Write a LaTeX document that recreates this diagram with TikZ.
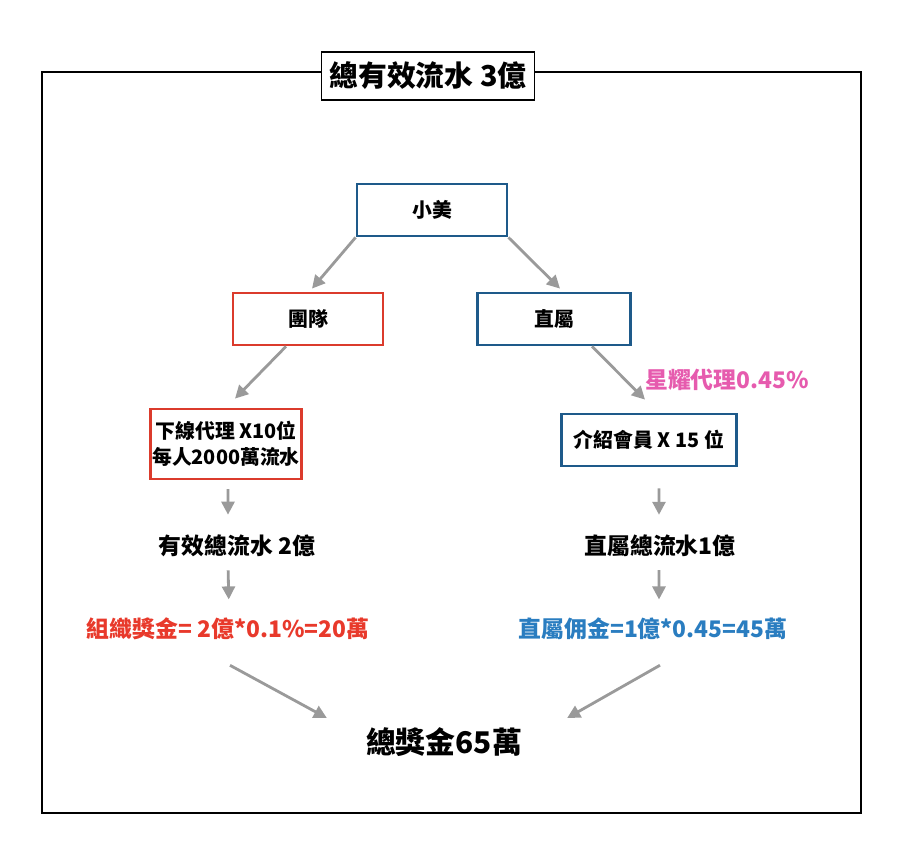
\documentclass[tikz,border=0pt]{standalone}
\usepackage{fontspec}
\setmainfont{Noto Sans CJK TC}
\usetikzlibrary{arrows.meta, positioning, calc}
\definecolor{bxred}{HTML}{DB3B2C}
\definecolor{bxblue}{HTML}{1E5A8A}
\definecolor{txred}{HTML}{E8392B}
\definecolor{txblue}{HTML}{2A7DC0}
\definecolor{txpink}{HTML}{E65BAE}
\definecolor{argray}{HTML}{9A9A9A}

\begin{document}
\begin{tikzpicture}[
  every node/.style={font=\bfseries},
  redbox/.style={rectangle, draw=bxred, line width=1.6pt, fill=white, minimum width=3.0cm, minimum height=1.04cm, align=center, font=\fontsize{11.3}{15}\selectfont\bfseries},
  bluebox/.style={rectangle, draw=bxblue, line width=1.6pt, fill=white, minimum width=3.0cm, minimum height=1.04cm, align=center, font=\fontsize{11.3}{15}\selectfont\bfseries},
  lbl/.style={font=\fontsize{13}{15}\selectfont\bfseries},
  arr/.style={-{Triangle[length=0.26cm, width=0.26cm]}, argray, line width=1.6pt},
]
\useasboundingbox (0,0) rectangle (18.2,-16.94);

% outer frame and title
\draw[line width=0.8pt] (0.84,-1.44) rectangle (17.22,-16.26);
\node[draw, line width=1.1pt, fill=white, minimum width=4.26cm, minimum height=0.96cm, font=\fontsize{16.4}{18}\selectfont\bfseries] (title) at (8.56,-1.52) {總有效流水 3億};

% top
\node[bluebox] (xm) at (8.64,-4.20) {小美};
\node[redbox] (td) at (6.16,-6.38) {團隊};
\node[bluebox, minimum width=3.06cm] (zs) at (11.08,-6.38) {直屬};

% left branch
\node[redbox, minimum height=1.4cm, inner sep=1pt] (xx) at (4.52,-8.88) {下線代理 X10位\\每人2000萬流水};
\node[lbl] (yx) at (4.74,-10.92) {有效總流水 2億};
\node[lbl, text=txred] (zj) at (4.56,-12.58) {組織獎金= 2億*0.1\%=20萬};

% right branch
\node[bluebox, minimum width=3.5cm] (js) at (12.98,-8.80) {介紹會員 X 15 位};
\node[lbl, text=txpink] (xy) at (14.54,-7.60) {星耀代理0.45\%};
\node[lbl] (zz) at (13.2,-10.92) {直屬總流水1億};
\node[lbl, text=txblue] (zy) at (13.06,-12.58) {直屬佣金=1億*0.45=45萬};

% total
\node[font=\fontsize{17}{20}\selectfont\bfseries] (tot) at (8.88,-14.84) {總獎金65萬};

% arrows
\draw[arr] (xm.south west) -- ([xshift=0.08cm, yshift=0.06cm]td.north);
\draw[arr] (xm.south east) -- ([xshift=0.12cm, yshift=0.06cm]zs.north);
\draw[arr] ([xshift=-0.44cm]td.south) -- ([xshift=0.18cm, yshift=0.18cm]xx.north);
\draw[arr] ([xshift=0.76cm]zs.south) -- ([xshift=-0.08cm, yshift=0.26cm]js.north);
\draw[arr, shorten <=5pt, shorten >=8pt] ([xshift=0.04cm]xx.south) -- ([xshift=-0.18cm]yx.north);
\draw[arr, shorten <=4pt, shorten >=7pt] ([xshift=-0.18cm]yx.south) -- ([xshift=0.02cm]zj.north);
\draw[arr, shorten <=12pt, shorten >=8pt] ([xshift=0.2cm]js.south) -- ([xshift=-0.02cm]zz.north);
\draw[arr, shorten <=4pt, shorten >=7pt] ([xshift=-0.02cm]zz.south) -- ([xshift=0.12cm]zy.north);
\draw[arr] ([xshift=0.04cm, yshift=-0.38cm]zj.south) -- ([xshift=-0.66cm, yshift=0.48cm]tot.west);
\draw[arr] ([xshift=0.14cm, yshift=-0.38cm]zy.south) -- ([xshift=0.78cm, yshift=0.48cm]tot.east);
\end{tikzpicture}
\end{document}
